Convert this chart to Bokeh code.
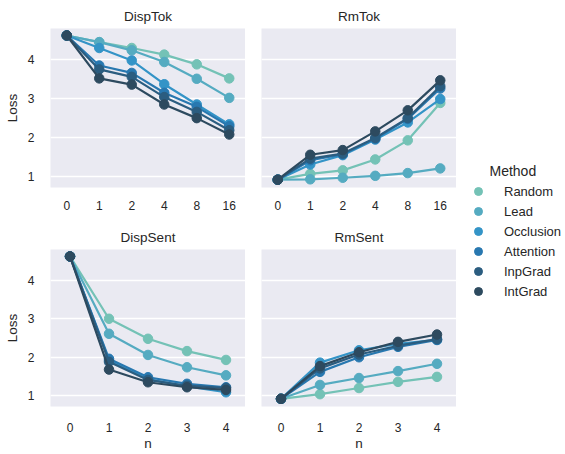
from bokeh.plotting import figure
from bokeh.models import FactorRange, Range1d, FixedTicker, Legend, LegendItem, Label, ColumnDataSource
from bokeh.layouts import row, column
from bokeh.embed import file_html
from bokeh.resources import INLINE

methods = ["Random", "Lead", "Occlusion", "Attention", "InpGrad", "IntGrad"]
colors = ["#74c2b6", "#55abc1", "#3494c7", "#2878b0", "#2b5d80", "#2d4a5f"]
tok_n = ["0", "1", "2", "4", "8", "16"]
sent_n = ["0", "1", "2", "3", "4"]

# rows follow the order of `methods`
disptok = [
    [4.62, 4.45, 4.30, 4.13, 3.88, 3.52],
    [4.62, 4.45, 4.24, 3.94, 3.51, 3.02],
    [4.62, 4.30, 3.98, 3.37, 2.85, 2.34],
    [4.62, 3.85, 3.66, 3.15, 2.79, 2.29],
    [4.62, 3.75, 3.56, 3.04, 2.66, 2.19],
    [4.62, 3.52, 3.36, 2.85, 2.50, 2.08],
]
rmtok = [
    [0.92, 1.07, 1.16, 1.44, 1.93, 2.89],
    [0.92, 0.93, 0.97, 1.02, 1.09, 1.21],
    [0.92, 1.31, 1.55, 1.95, 2.39, 2.99],
    [0.92, 1.42, 1.57, 1.97, 2.48, 3.26],
    [0.92, 1.46, 1.59, 1.99, 2.50, 3.32],
    [0.92, 1.56, 1.68, 2.16, 2.70, 3.47],
]
dispsent = [
    [4.62, 3.00, 2.48, 2.16, 1.93],
    [4.62, 2.61, 2.06, 1.74, 1.53],
    [4.62, 1.92, 1.43, 1.24, 1.09],
    [4.62, 1.96, 1.48, 1.31, 1.22],
    [4.62, 1.88, 1.41, 1.26, 1.20],
    [4.62, 1.68, 1.35, 1.22, 1.15],
]
rmsent = [
    [0.92, 1.04, 1.20, 1.36, 1.49],
    [0.92, 1.28, 1.46, 1.64, 1.83],
    [0.92, 1.86, 2.18, 2.35, 2.45],
    [0.92, 1.62, 2.00, 2.27, 2.45],
    [0.92, 1.71, 2.07, 2.30, 2.47],
    [0.92, 1.77, 2.13, 2.40, 2.59],
]

FONT = "Liberation Sans"
TXT = "#262626"
BG = "#eaeaf2"

FRAME_W = 195
TOP_T, TOP_F, TOP_B = 28, 159, 34
BOT_T, BOT_F, BOT_B = 28, 157, 47
LEFT_B = 50
GAP = 16
LEG_W = 108


def panel(title, cats, data, top, fh, bottom, show_y, show_xlabel):
    left = LEFT_B if show_y else GAP
    p = figure(width=left + FRAME_W, height=top + fh + bottom,
               x_range=FactorRange(*cats, range_padding=0),
               y_range=Range1d(0.72, 4.80),
               output_backend="svg", toolbar_location=None,
               min_border_left=left, min_border_right=0,
               min_border_top=top, min_border_bottom=bottom,
               title=title)
    p.title.align = "center"
    p.title.text_font = FONT
    p.title.text_font_size = "13.5px"
    p.title.text_font_style = "normal"
    p.title.text_color = TXT
    p.title.standoff = 10
    p.background_fill_color = BG
    p.outline_line_color = None
    p.xgrid.grid_line_color = None
    p.ygrid.grid_line_color = "white"
    p.ygrid.grid_line_width = 1.3
    p.yaxis.ticker = FixedTicker(ticks=[1, 2, 3, 4])
    for ax in (p.xaxis[0], p.yaxis[0]):
        ax.axis_line_color = None
        ax.major_tick_line_color = None
        ax.minor_tick_line_color = None
        ax.major_label_text_font = FONT
        ax.major_label_text_font_size = "12px"
        ax.major_label_text_color = TXT
        ax.axis_label_text_font = FONT
        ax.axis_label_text_font_size = "13.5px"
        ax.axis_label_text_font_style = "normal"
        ax.axis_label_text_color = TXT
    p.xaxis.major_label_standoff = 10 if show_xlabel else 7
    p.yaxis.major_label_standoff = 10
    if show_y:
        p.yaxis.axis_label = "Loss"
        p.yaxis.axis_label_standoff = 5
    else:
        p.yaxis.visible = False
    if show_xlabel:
        p.xaxis.axis_label = "n"
        p.xaxis.axis_label_standoff = 1
    for m, c, ys in zip(methods, colors, data):
        src = ColumnDataSource(dict(x=cats, y=ys))
        p.line("x", "y", source=src, line_color=c, line_width=2.2)
        p.scatter("x", "y", source=src, size=9.5, fill_color=c, line_color=c)
    return p


p1 = panel("DispTok", tok_n, disptok, TOP_T, TOP_F, TOP_B, True, False)
p2 = panel("RmTok", tok_n, rmtok, TOP_T, TOP_F, TOP_B, False, False)
p3 = panel("DispSent", sent_n, dispsent, BOT_T, BOT_F, BOT_B, True, True)
p4 = panel("RmSent", sent_n, rmsent, BOT_T, BOT_F, BOT_B, False, True)

H = TOP_T + TOP_F + TOP_B + BOT_T + BOT_F + BOT_B
leg = figure(width=LEG_W, height=H, x_range=Range1d(0, 1), y_range=Range1d(0, 1),
             output_backend="svg", toolbar_location=None,
             x_axis_type=None, y_axis_type=None,
             min_border_left=0, min_border_right=0, min_border_top=0, min_border_bottom=0)
leg.outline_line_color = None
leg.xgrid.visible = False
leg.ygrid.visible = False
items = []
nan = float("nan")
for m, c in zip(methods, colors):
    r = leg.scatter(x=[nan], y=[nan], size=7.5, fill_color=c, line_color=c)
    items.append(LegendItem(label=m, renderers=[r]))
legend = Legend(items=items, location=(12, H - 301), border_line_color=None,
                background_fill_alpha=0, padding=0, margin=0, spacing=0,
                glyph_height=20, glyph_width=20, label_height=20,
                label_standoff=16, label_text_font=FONT,
                label_text_font_size="13px", label_text_color=TXT,
                label_text_baseline="middle")
leg.add_layout(legend)
leg.add_layout(Label(x=33, y=H - 170, x_units="screen", y_units="screen",
                     text="Method", text_font=FONT, text_font_size="14px",
                     text_color=TXT, text_baseline="middle"))

layout = row(column(row(p1, p2), row(p3, p4)), leg)
open("out.html", "w").write(file_html(layout, INLINE))
